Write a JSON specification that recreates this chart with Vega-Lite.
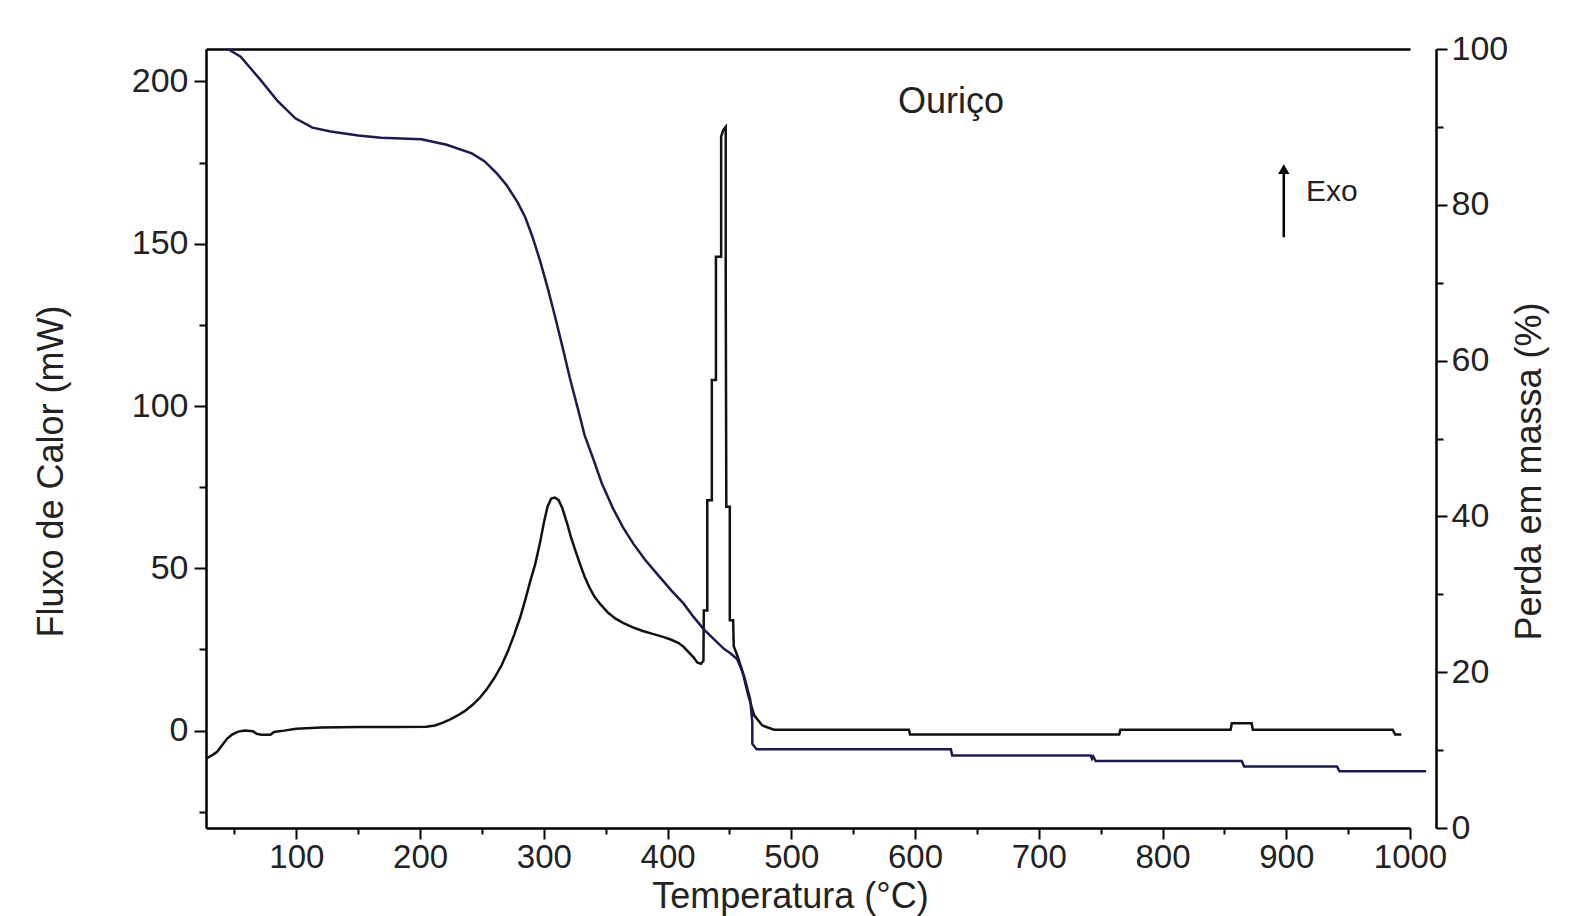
{
  "$schema": "https://vega.github.io/schema/vega-lite/v6.json",
  "width": 1204,
  "height": 779,
  "autosize": {"type": "none"},
  "padding": {"left": 206, "top": 49, "right": 168, "bottom": 88},
  "background": "white",
  "config": {
    "view": {"stroke": null},
    "font": "Liberation Sans",
    "axis": {
      "grid": false,
      "domainColor": "black",
      "domainWidth": 2.5,
      "tickColor": "black",
      "tickWidth": 2,
      "labelColor": "#222222",
      "labelFont": "Liberation Sans",
      "labelFontSize": 34,
      "titleFont": "Liberation Sans",
      "titleFontSize": 36,
      "titleFontWeight": "normal",
      "titleColor": "#222222",
      "labelFlush": false,
      "labelOverlap": false
    }
  },
  "datasets": {
    "dsc": [
      {"T": 27, "mW": -8.6}, {"T": 32, "mW": -7.6}, {"T": 36, "mW": -6.5}, {"T": 40, "mW": -4.5},
      {"T": 44, "mW": -2.5}, {"T": 48, "mW": -1.2}, {"T": 53, "mW": -0.3}, {"T": 58, "mW": 0},
      {"T": 65, "mW": -0.2}, {"T": 68, "mW": -1.0}, {"T": 72, "mW": -1.3}, {"T": 79, "mW": -1.3},
      {"T": 82, "mW": -0.4}, {"T": 90, "mW": 0}, {"T": 100, "mW": 0.6}, {"T": 120, "mW": 1.0},
      {"T": 150, "mW": 1.1}, {"T": 180, "mW": 1.1}, {"T": 205, "mW": 1.2}, {"T": 212, "mW": 1.6},
      {"T": 218, "mW": 2.4}, {"T": 224, "mW": 3.4}, {"T": 230, "mW": 4.6}, {"T": 236, "mW": 6.0},
      {"T": 242, "mW": 7.8}, {"T": 248, "mW": 10.0}, {"T": 254, "mW": 12.8}, {"T": 260, "mW": 16.2},
      {"T": 266, "mW": 20.2}, {"T": 271, "mW": 24.5}, {"T": 276, "mW": 29.5}, {"T": 281, "mW": 35},
      {"T": 285, "mW": 40.3}, {"T": 289, "mW": 46}, {"T": 293, "mW": 51.2}, {"T": 297, "mW": 58},
      {"T": 300, "mW": 64}, {"T": 303, "mW": 69}, {"T": 306, "mW": 71.5}, {"T": 309, "mW": 71.8},
      {"T": 312, "mW": 71}, {"T": 315, "mW": 68.5}, {"T": 319, "mW": 63.6}, {"T": 322, "mW": 59.5},
      {"T": 326, "mW": 54.9}, {"T": 330, "mW": 50.5}, {"T": 333, "mW": 47.4}, {"T": 337, "mW": 44},
      {"T": 341, "mW": 41.2}, {"T": 346, "mW": 38.8}, {"T": 352, "mW": 36.3}, {"T": 358, "mW": 34.5},
      {"T": 364, "mW": 33.2}, {"T": 372, "mW": 31.8}, {"T": 380, "mW": 30.7}, {"T": 388, "mW": 29.8},
      {"T": 397, "mW": 28.8}, {"T": 403, "mW": 28}, {"T": 409, "mW": 27}, {"T": 413, "mW": 25.8},
      {"T": 417, "mW": 24.2}, {"T": 421, "mW": 22.6}, {"T": 424, "mW": 21}, {"T": 427, "mW": 20.6},
      {"T": 429, "mW": 21.5}, {"T": 429.3, "mW": 37}, {"T": 432.1, "mW": 37}, {"T": 432.1, "mW": 71},
      {"T": 435.8, "mW": 71}, {"T": 435.8, "mW": 108}, {"T": 439.1, "mW": 108}, {"T": 439.1, "mW": 146},
      {"T": 443.3, "mW": 146}, {"T": 443.3, "mW": 183}, {"T": 445, "mW": 185}, {"T": 447, "mW": 186},
      {"T": 447, "mW": 140}, {"T": 447.5, "mW": 69}, {"T": 450.3, "mW": 69}, {"T": 450.3, "mW": 34},
      {"T": 453, "mW": 34}, {"T": 453.5, "mW": 26}, {"T": 456.2, "mW": 23.3}, {"T": 460.3, "mW": 18.6},
      {"T": 465.2, "mW": 10.9}, {"T": 470, "mW": 4.7}, {"T": 476.6, "mW": 1.6}, {"T": 486, "mW": 0.3},
      {"T": 595, "mW": 0.3}, {"T": 596, "mW": -1.2}, {"T": 765, "mW": -1.2}, {"T": 766, "mW": 0.3},
      {"T": 855, "mW": 0.3}, {"T": 856, "mW": 2.3}, {"T": 872, "mW": 2.3}, {"T": 873, "mW": 0.3},
      {"T": 986, "mW": 0.3}, {"T": 988, "mW": -1.2}, {"T": 993, "mW": -1.2}
    ],
    "tg": [
      {"T": 44.6, "perda": 100}, {"T": 55, "perda": 99.0}, {"T": 70.7, "perda": 96.1}, {"T": 85, "perda": 93.3},
      {"T": 99.2, "perda": 91.1}, {"T": 113, "perda": 89.9}, {"T": 127.7, "perda": 89.4}, {"T": 150, "perda": 88.9},
      {"T": 168.5, "perda": 88.6}, {"T": 201, "perda": 88.4}, {"T": 221.5, "perda": 87.7}, {"T": 241.8, "perda": 86.6},
      {"T": 252, "perda": 85.6}, {"T": 262.2, "perda": 84.0}, {"T": 270, "perda": 82.5}, {"T": 278.5, "perda": 80.4},
      {"T": 285, "perda": 78.4}, {"T": 290.8, "perda": 75.9}, {"T": 297, "perda": 72.8}, {"T": 303, "perda": 69.4},
      {"T": 309, "perda": 65.7}, {"T": 315.2, "perda": 61.7}, {"T": 321, "perda": 57.8}, {"T": 327.4, "perda": 53.9},
      {"T": 333, "perda": 50.4}, {"T": 339.7, "perda": 47.5}, {"T": 347, "perda": 44.2}, {"T": 356, "perda": 41.0},
      {"T": 364, "perda": 38.6}, {"T": 372.3, "perda": 36.5}, {"T": 382, "perda": 34.4}, {"T": 392.7, "perda": 32.4},
      {"T": 403, "perda": 30.5}, {"T": 413, "perda": 28.8}, {"T": 421, "perda": 27.1}, {"T": 429.3, "perda": 25.5},
      {"T": 437, "perda": 24.3}, {"T": 445.6, "perda": 23.0}, {"T": 451, "perda": 22.4}, {"T": 456.2, "perda": 21.7},
      {"T": 461.9, "perda": 19.5}, {"T": 466.8, "perda": 16.5}, {"T": 468.5, "perda": 13.6}, {"T": 468.5, "perda": 10.8},
      {"T": 472, "perda": 10.1}, {"T": 629, "perda": 10.1}, {"T": 630, "perda": 9.3}, {"T": 742, "perda": 9.3},
      {"T": 743, "perda": 8.9}, {"T": 744, "perda": 9.2}, {"T": 746, "perda": 8.6}, {"T": 864, "perda": 8.6},
      {"T": 866, "perda": 7.9}, {"T": 941, "perda": 7.9}, {"T": 943, "perda": 7.3}, {"T": 1013, "perda": 7.3}
    ],
    "titulo": [{"T": 629, "mW": 193.8, "texto": "Ouriço"}],
    "exo": [{"T": 898, "mW": 152, "mW2": 172, "topo": 173, "Tt": 916, "my": 166, "texto": "Exo"}]
  },
  "layer": [
    {
      "data": {"name": "dsc"},
      "mark": {"type": "line", "color": "#111111", "strokeWidth": 2.5},
      "encoding": {
        "x": {
          "field": "T", "type": "quantitative",
          "scale": {"domain": [27, 1000], "nice": false, "zero": false},
          "axis": {
            "orient": "bottom",
            "values": [50, 100, 150, 200, 250, 300, 350, 400, 450, 500, 550, 600, 650, 700, 750, 800, 850, 900, 950, 1000],
            "labelExpr": "datum.value % 100 === 0 ? format(datum.value, 'd') : ''",
            "tickSize": {"condition": {"test": "datum.value % 100 === 0", "value": 11}, "value": 6},
            "labelPadding": 2,
            "labelFontSize": 33,
            "title": "Temperatura (°C)",
            "titleX": 584,
            "titleY": 79,
            "titleBaseline": "alphabetic"
          }
        },
        "y": {
          "field": "mW", "type": "quantitative",
          "scale": {"domain": [-30, 210], "nice": false, "zero": false},
          "axis": {
            "orient": "left",
            "values": [-25, 0, 25, 50, 75, 100, 125, 150, 175, 200],
            "labelExpr": "datum.value % 50 === 0 ? format(datum.value, 'd') : ''",
            "tickSize": {"condition": {"test": "datum.value % 50 === 0", "value": 12}, "value": 7},
            "labelPadding": 6,
            "title": "Fluxo de Calor (mW)",
            "titleAngle": 270,
            "titleX": -144,
            "titleY": 422,
            "titleBaseline": "alphabetic",
            "titleAlign": "center"
          }
        }
      }
    },
    {
      "data": {"name": "tg"},
      "mark": {"type": "line", "color": "#1b1b52", "strokeWidth": 2.5},
      "encoding": {
        "x": {
          "field": "T", "type": "quantitative",
          "scale": {"domain": [27, 1000], "nice": false, "zero": false},
          "axis": {"orient": "top", "labels": false, "ticks": false, "title": null, "values": []}
        },
        "y": {
          "field": "perda", "type": "quantitative",
          "scale": {"domain": [0, 100], "nice": false, "zero": false},
          "axis": {
            "orient": "right",
            "offset": 26,
            "values": [0, 10, 20, 30, 40, 50, 60, 70, 80, 90, 100],
            "labelExpr": "datum.value % 20 === 0 ? format(datum.value, 'd') : ''",
            "tickSize": {"condition": {"test": "datum.value % 20 === 0", "value": 11}, "value": 7},
            "labelPadding": 4,
            "title": "Perda em massa (%)",
            "titleAngle": 270,
            "titleX": 104,
            "titleY": 422,
            "titleBaseline": "alphabetic",
            "titleAlign": "center"
          }
        }
      }
    },
    {
      "data": {"name": "titulo"},
      "mark": {"type": "text", "fontSize": 36, "font": "Liberation Sans", "color": "#222222", "align": "center", "baseline": "middle"},
      "encoding": {
        "x": {"field": "T", "type": "quantitative", "scale": {"domain": [27, 1000], "nice": false, "zero": false}, "axis": null},
        "y": {"field": "mW", "type": "quantitative", "scale": {"domain": [-30, 210], "nice": false, "zero": false}, "axis": null},
        "text": {"field": "texto"}
      }
    },
    {
      "data": {"name": "exo"},
      "mark": {"type": "rule", "color": "black", "strokeWidth": 2.5},
      "encoding": {
        "x": {"field": "T", "type": "quantitative", "scale": {"domain": [27, 1000], "nice": false, "zero": false}, "axis": null},
        "y": {"field": "mW", "type": "quantitative", "scale": {"domain": [-30, 210], "nice": false, "zero": false}, "axis": null},
        "y2": {"field": "mW2"}
      }
    },
    {
      "data": {"name": "exo"},
      "mark": {"type": "point", "shape": "triangle-up", "filled": true, "color": "black", "size": 130, "opacity": 1},
      "encoding": {
        "x": {"field": "T", "type": "quantitative", "scale": {"domain": [27, 1000], "nice": false, "zero": false}, "axis": null},
        "y": {"field": "topo", "type": "quantitative", "scale": {"domain": [-30, 210], "nice": false, "zero": false}, "axis": null}
      }
    },
    {
      "data": {"name": "exo"},
      "mark": {"type": "text", "fontSize": 30, "font": "Liberation Sans", "color": "#222222", "align": "left", "baseline": "middle"},
      "encoding": {
        "x": {"field": "Tt", "type": "quantitative", "scale": {"domain": [27, 1000], "nice": false, "zero": false}, "axis": null},
        "y": {"field": "my", "type": "quantitative", "scale": {"domain": [-30, 210], "nice": false, "zero": false}, "axis": null},
        "text": {"field": "texto"}
      }
    }
  ],
  "resolve": {"scale": {"y": "independent"}, "axis": {"x": "independent", "y": "independent"}}
}
